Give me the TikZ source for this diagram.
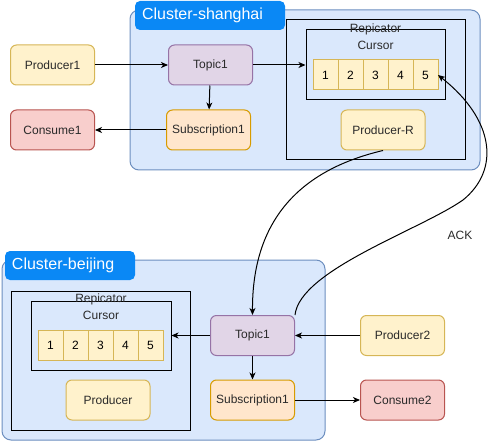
\documentclass[tikz,border=0pt]{standalone}
\usepackage{fontspec}
\setmainfont{Liberation Sans}
\usetikzlibrary{arrows.meta,positioning}
\definecolor{ClusterFill}{HTML}{DAE8FC}
\definecolor{ClusterLine}{HTML}{6C8EBF}
\definecolor{TagBlue}{HTML}{0A88F5}
\definecolor{ProdFill}{HTML}{FFF2CC}
\definecolor{ProdLine}{HTML}{D6B656}
\definecolor{TopicFill}{HTML}{E1D5E7}
\definecolor{TopicLine}{HTML}{9673A6}
\definecolor{SubFill}{HTML}{FFE6CC}
\definecolor{SubLine}{HTML}{D79B00}
\definecolor{ConsFill}{HTML}{F8CECC}
\definecolor{ConsLine}{HTML}{B85450}
\definecolor{Ink}{HTML}{2A2A2A}
\tikzset{
  flowarrow/.style={-{Stealth[length=7pt,width=6pt,inset=2pt]},line width=1pt,draw=black},
  nodebase/.style={rounded corners=6pt,minimum width=84pt,minimum height=40pt,inner sep=0pt,
    line width=1pt,text=Ink,font=\fontsize{12}{14}\selectfont},
  prodbox/.style={nodebase,fill=ProdFill,draw=ProdLine},
  topicbox/.style={nodebase,fill=TopicFill,draw=TopicLine},
  subbox/.style={nodebase,fill=SubFill,draw=SubLine},
  consbox/.style={nodebase,fill=ConsFill,draw=ConsLine},
  cluster/.style={rounded corners=9pt,draw=ClusterLine,fill=ClusterFill,line width=1pt,inner sep=0pt},
  tagbox/.style={rounded corners=5pt,fill=TagBlue,text=white,minimum height=29pt,inner ysep=0pt,
    inner xsep=7pt,align=left,font=\fontsize{16}{19}\selectfont},
  plainbox/.style={draw=black,line width=1pt,inner sep=0pt},
  cell/.style={draw=ProdLine,fill=ProdFill,line width=1pt,minimum width=25pt,minimum height=30pt,
    inner sep=0pt,outer sep=0pt,text=black,font=\fontsize{12}{14}\selectfont},
  caption/.style={inner sep=0pt,text=Ink,font=\fontsize{12}{14}\selectfont},
}
\begin{document}
\begin{tikzpicture}[x=1pt,y=-1pt]
  \useasboundingbox (0,0) rectangle (493,441);
  \node[cluster,minimum width=350pt,minimum height=160pt] (shcl) at (305,90) {};
  \node[tagbox,text width=136pt] (shtag) at (210,15.5) {Cluster-shanghai};
  \node[plainbox,minimum width=179pt,minimum height=140pt] (shrep) at (375.5,90) {};
  \node[plainbox,minimum width=139pt,minimum height=70pt] (shcur) at (375.5,65) {};
  \node[caption] (shreplbl) at (375.5,29) {Repicator};
  \node[caption] (shcurlbl) at (375.5,45) {Cursor};
  \node[cell] (sh1) at (325.5,75) {1};
  \foreach \i [count=\j from 1] in {2,...,5}
    \node[cell,right=0pt of sh\j] (sh\i) {\i};
  \node[prodbox] (prodr) at (383,130) {Producer-R};
  \node[topicbox] (sht1) at (210.5,65) {Topic1};
  \node[subbox] (shs1) at (208.5,130) {Subscription1};
  \node[prodbox] (p1) at (52.5,65) {Producer1};
  \node[consbox] (c1) at (52.5,130) {Consume1};

  \node[cluster,minimum width=323pt,minimum height=180pt] (bjcl) at (163.5,350) {};
  \node[tagbox,text width=116pt] (bjtag) at (70,265.5) {Cluster-beijing};
  \node[plainbox,minimum width=179pt,minimum height=139pt] (bjrep) at (100.5,360.5) {};
  \node[plainbox,minimum width=140pt,minimum height=69pt] (bjcur) at (101,335.5) {};
  \node[caption] (bjreplbl) at (101,299.5) {Repicator};
  \node[caption] (bjcurlbl) at (101,315) {Cursor};
  \node[cell] (bj1) at (50.5,345) {1};
  \foreach \i [count=\j from 1] in {2,...,5}
    \node[cell,right=0pt of bj\j] (bj\i) {\i};
  \node[prodbox] (prod) at (108,400) {Producer};
  \node[topicbox] (bjt1) at (252.5,335.5) {Topic1};
  \node[subbox] (bjs1) at (252.5,400) {Subscription1};
  \node[prodbox] (p2) at (402.5,335.5) {Producer2};
  \node[consbox] (c2) at (402.5,400) {Consume2};
  \node[caption] (ack) at (460,235) {ACK};

  \draw[flowarrow] (p1) -- (sht1);
  \draw[flowarrow] (sht1) -- (shcur);
  \draw[flowarrow] (sht1) -- (shs1);
  \draw[flowarrow] (shs1) -- (c1);
  \draw[flowarrow] (prodr.south) .. controls (300,170) and (252,220) .. (bjt1.north);
  \draw[flowarrow] (bjt1.north east) .. controls (300,270) and (420,230) .. (463,200)
    .. controls (500,170) and (495,120) .. (sh5.east);
  \draw[flowarrow] (p2) -- (bjt1);
  \draw[flowarrow] (bjt1) -- (bjcur);
  \draw[flowarrow] (bjt1) -- (bjs1);
  \draw[flowarrow] (bjs1) -- (c2);
\end{tikzpicture}
\end{document}
